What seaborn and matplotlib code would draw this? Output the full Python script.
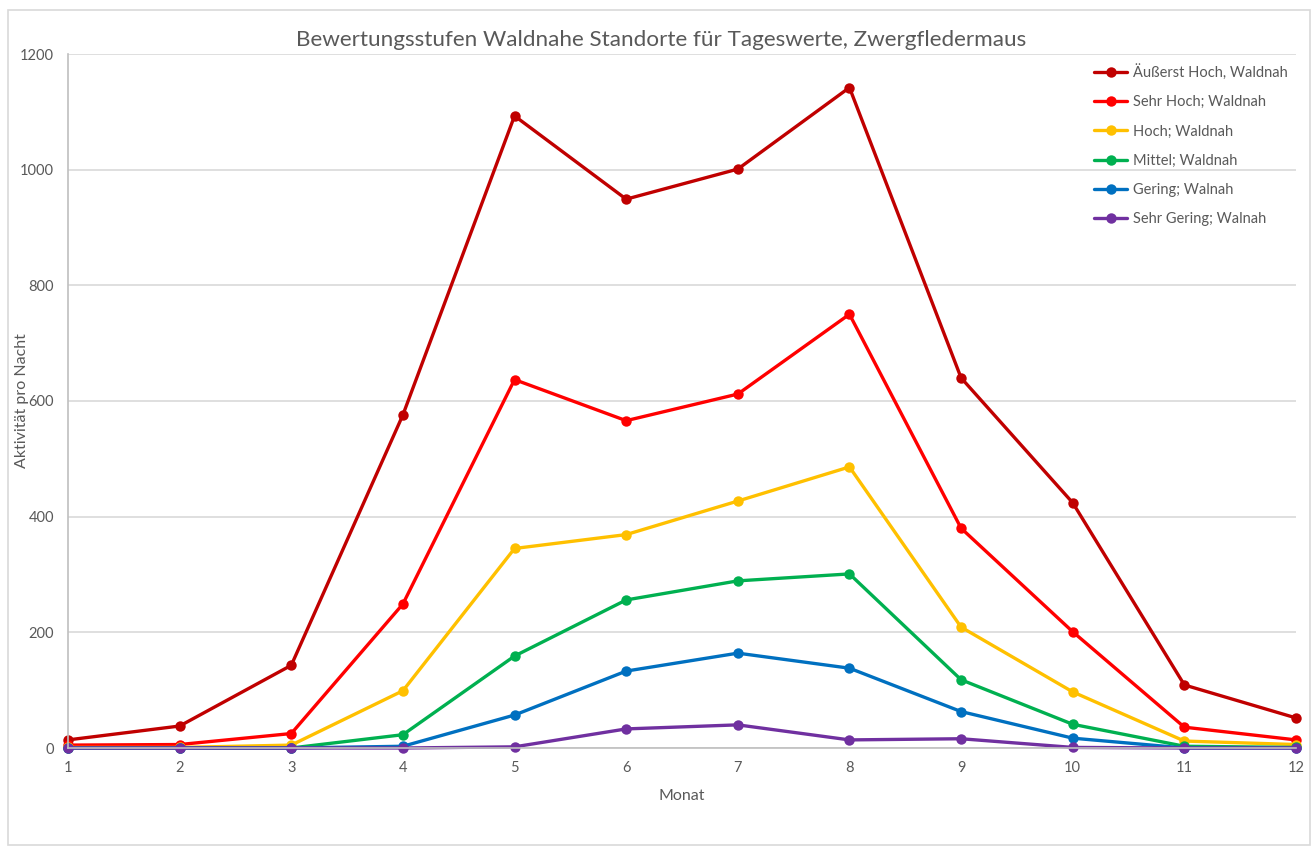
import matplotlib
matplotlib.use("Agg")
import matplotlib.pyplot as plt
import seaborn as sns
import pandas as pd
from matplotlib.patches import Rectangle

months = [1, 2, 3, 4, 5, 6, 7, 8, 9, 10, 11, 12]
series_names = [
    "Äußerst Hoch, Waldnah",
    "Sehr Hoch; Waldnah",
    "Hoch; Waldnah",
    "Mittel; Waldnah",
    "Gering; Walnah",
    "Sehr Gering; Walnah",
]
aeusserst_hoch = [14, 38, 143, 576, 1093, 949, 1001, 1142, 640, 424, 109, 52]
sehr_hoch = [5, 6, 25, 249, 637, 566, 612, 750, 380, 201, 36, 14]
hoch = [1, 1, 5, 99, 345, 369, 427, 486, 209, 97, 12, 6]
mittel = [0, 0, 0, 23, 159, 256, 289, 301, 118, 41, 3, 1]
gering = [0, 0, 0, 3, 57, 133, 164, 138, 63, 17, 0, 0]
sehr_gering = [0, 0, 0, 0, 2, 33, 40, 14, 16, 1, 0, 0]
colors = ["#C00000", "#FF0000", "#FFC000", "#00B050", "#0070C0", "#7030A0"]

all_values = [aeusserst_hoch, sehr_hoch, hoch, mittel, gering, sehr_gering]
rows = []
for name, vals in zip(series_names, all_values):
    for m, v in zip(months, vals):
        rows.append({"Monat": m, "Wert": v, "Serie": name})
df = pd.DataFrame(rows)

sns.set_theme(style="white")
plt.rcParams["font.family"] = ["Lato", "DejaVu Sans"]
grey = "#595959"

fig = plt.figure(figsize=(13.14, 8.5), dpi=100)
ax = fig.add_axes([68 / 1314, 1 - 748 / 850, (1296 - 68) / 1314, (748 - 54) / 850])

sns.lineplot(
    data=df, x="Monat", y="Wert", hue="Serie", hue_order=series_names,
    palette=colors, marker="o", markersize=7.5, markeredgewidth=0,
    linewidth=2.4, ax=ax, legend=True,
)
for ln in ax.lines:
    ln.set_clip_on(False)

ax.set_xlim(1, 12)
ax.set_ylim(0, 1200)
ax.set_xticks(months)
ax.set_yticks(range(0, 1201, 200))
ax.tick_params(axis="both", length=0, labelsize=10.5, labelcolor=grey)
ax.tick_params(axis="y", pad=10)
ax.tick_params(axis="x", pad=9)
ax.yaxis.grid(True, color="#D9D9D9", linewidth=1.2)
ax.xaxis.grid(False)
ax.set_axisbelow(True)
for s in ["top", "right"]:
    ax.spines[s].set_visible(False)
ax.spines["left"].set_color("#BFBFBF")
ax.spines["bottom"].set_color("#BFBFBF")
ax.spines["left"].set_linewidth(1.2)
ax.spines["bottom"].set_linewidth(1.2)

ax.set_xlabel("Monat", fontsize=11.5, color=grey)
ax.set_ylabel("Aktivität pro Nacht", fontsize=11.5, color=grey)
ax.xaxis.set_label_coords(0.5, -(796 - 748) / (748 - 54))
ax.yaxis.set_label_coords(-(68 - 22) / (1296 - 68), 0.5)
ax.xaxis.label.set_va("center")
ax.yaxis.label.set_va("center")
fig.text(661 / 1314, 1 - 40 / 850, "Bewertungsstufen Waldnahe Standorte für Tageswerte, Zwergfledermaus",
         ha="center", va="center", fontsize=16.2, color=grey)

handles, labels = ax.get_legend_handles_labels()
ax.legend(handles, labels, loc="upper left", bbox_to_anchor=(1088 / 1314, 1 - 58 / 850),
          bbox_transform=fig.transFigure, frameon=False, fontsize=10.5,
          labelcolor=grey, handlelength=2.3, handletextpad=0.4, labelspacing=1.05,
          borderaxespad=0)

fig.patches.append(Rectangle((8 / 1314, 1 - 845 / 850), (1310 - 8) / 1314, (845 - 10) / 850,
                             transform=fig.transFigure, fill=False, edgecolor="#D9D9D9",
                             linewidth=1.2))

fig.savefig("out.png", dpi=100, facecolor="white")
